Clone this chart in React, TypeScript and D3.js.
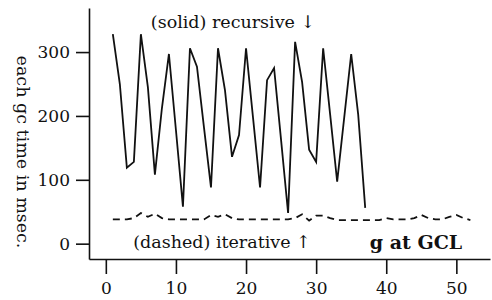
import * as d3 from 'd3'
import { useRef, useEffect } from 'react'

// gc number for each point
const recursiveX = d3.range(1, 38)
// each gc time in msec, recursive (solid)
const recursiveMs = [328, 250, 119, 128, 328, 245, 108, 212, 297, 178, 58, 306, 277, 182, 88, 306, 240, 136, 170, 306,
  197, 88, 256, 275, 162, 48, 316, 253, 147, 128, 306, 202, 97, 197, 297, 202, 56]

const iterativeX = d3.range(1, 53)
// each gc time in msec, iterative (dashed)
const iterativeMs = [38, 38, 38, 40, 48, 42, 47, 40, 38, 38, 38, 38, 38, 38, 45, 42, 46, 40, 38, 38,
  38, 38, 38, 38, 38, 38, 40, 46, 36, 44, 44, 40, 37, 37, 37, 37, 37, 37, 37, 40,
  38, 38, 38, 40, 45, 40, 38, 38, 42, 45, 40, 37]

const xTicks = [0, 10, 20, 30, 40, 50]
const yTicks = [0, 100, 200, 300]

const serif = '"DejaVu Serif", serif'

export default function App() {
  const svgRef = useRef<SVGSVGElement>(null)
  useEffect(() => {
    const svg = d3.select(svgRef.current)
    svg.selectAll('*').remove()

    const x = d3.scaleLinear().domain([-2.4, 54.8]).range([89, 490])
    const y = d3.scaleLinear().domain([-24, 369]).range([259, 8])

    const xAxis = svg.append('g')
      .attr('transform', `translate(0, ${y(-24)})`)
      .call(d3.axisBottom(x).tickValues(xTicks).tickSize(15).tickSizeOuter(0).tickPadding(8))
    const yAxis = svg.append('g')
      .attr('transform', `translate(${x(-2.4)}, 0)`)
      .call(d3.axisLeft(y).tickValues(yTicks).tickSize(13).tickSizeOuter(0).tickPadding(6))

    for (const ax of [xAxis, yAxis]) {
      ax.select('.domain').attr('stroke', '#111').attr('stroke-width', 1.6)
      ax.selectAll('.tick line').attr('stroke', '#111').attr('stroke-width', 1.6)
      ax.selectAll('.tick text').attr('fill', '#111').style('font-family', serif).style('font-size', '17px')
    }

    const lineGen = d3.line<[number, number]>().x(d => x(d[0])).y(d => y(d[1]))

    // recursive, solid
    svg.append('path')
      .attr('d', lineGen(recursiveX.map((v, i) => [v, recursiveMs[i]])))
      .attr('fill', 'none')
      .attr('stroke', '#111')
      .attr('stroke-width', 1.8)

    // iterative, dashed
    svg.append('path')
      .attr('d', lineGen(iterativeX.map((v, i) => [v, iterativeMs[i]])))
      .attr('fill', 'none')
      .attr('stroke', '#111')
      .attr('stroke-width', 1.8)
      .attr('stroke-dasharray', '7,5')

    svg.append('text')
      .text('(solid) recursive ↓')
      .attr('x', 233).attr('y', 28)
      .attr('text-anchor', 'middle')
      .style('font-family', serif).style('font-size', '17.5px').attr('fill', '#111')

    svg.append('text')
      .text('(dashed) iterative ↑')
      .attr('x', 222).attr('y', 248)
      .attr('text-anchor', 'middle')
      .style('font-family', serif).style('font-size', '17.5px').attr('fill', '#111')

    svg.append('text')
      .text('g at GCL')
      .attr('x', 416).attr('y', 249)
      .attr('text-anchor', 'middle')
      .style('font-family', serif).style('font-size', '19px').style('font-weight', 'bold').attr('fill', '#111')

    svg.append('text')
      .text('each gc time in msec.')
      .attr('transform', 'translate(17, 152) rotate(90)')
      .attr('text-anchor', 'middle')
      .style('font-family', serif).style('font-size', '17.5px').attr('fill', '#111')
  }, [])
  return (
    <svg ref={svgRef} width={492} height={300}
      style={{ position: 'absolute', left: 0, top: 0, background: '#fff' }}></svg>
  )
}
